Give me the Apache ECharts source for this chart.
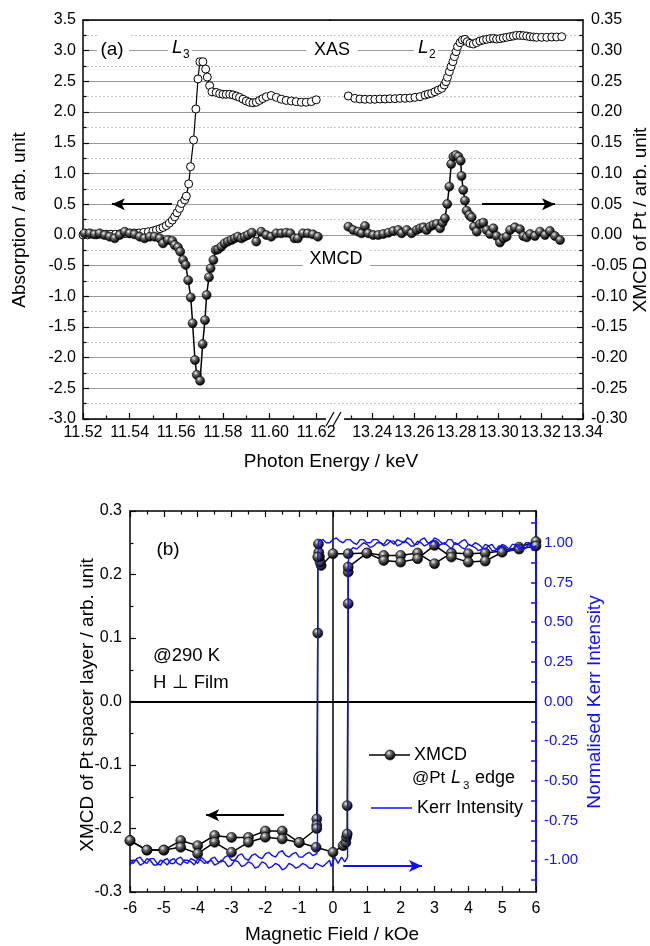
<!DOCTYPE html>
<html><head><meta charset="utf-8">
<script src="https://cdn.jsdelivr.net/npm/echarts@6/dist/echarts.min.js"></script>
<style>html,body{margin:0;padding:0;background:#fff}#c{width:650px;height:946px}</style>
</head><body><div id="c"></div>
<script>
// ---------- DATA (panel a) ----------
// XAS near Pt L3 edge: [photon energy keV, absorption]
const xasL3 = [[11.520,0.00],[11.522,0.00],[11.524,0.01],[11.526,0.00],[11.528,0.01],[11.530,0.01],[11.532,0.01],[11.534,0.01],[11.536,0.02],[11.538,0.02],[11.540,0.02],[11.542,0.03],[11.544,0.03],[11.546,0.04],[11.548,0.05],[11.550,0.065],[11.5515,0.08],[11.553,0.10],[11.5543,0.12],[11.5557,0.15],[11.5570,0.19],[11.5583,0.24],[11.5593,0.295],[11.5603,0.36],[11.5614,0.43],[11.5622,0.51],[11.5636,0.57],[11.5643,0.63],[11.5653,0.83],[11.5661,1.11],[11.5674,1.545],[11.5684,2.05],[11.5693,2.54],[11.5701,2.82],[11.5714,2.82],[11.5726,2.70],[11.5733,2.57],[11.5743,2.43],[11.5753,2.33],[11.5771,2.32],[11.5786,2.30],[11.5800,2.29],[11.5814,2.29],[11.5829,2.29],[11.5843,2.28],[11.5857,2.26],[11.5871,2.24],[11.5886,2.21],[11.5900,2.18],[11.5914,2.16],[11.5929,2.15],[11.5943,2.16],[11.5957,2.19],[11.5971,2.22],[11.5986,2.25],[11.6007,2.27],[11.6029,2.24],[11.6050,2.21],[11.6071,2.19],[11.6093,2.18],[11.6114,2.17],[11.6136,2.16],[11.6157,2.16],[11.6179,2.17],[11.6200,2.20]];
// XAS near Pt L2 edge
const xasL2 = [[13.2287,2.262],[13.2318,2.224],[13.2342,2.213],[13.2366,2.208],[13.239,2.208],[13.2413,2.208],[13.2437,2.213],[13.2461,2.213],[13.2484,2.218],[13.2508,2.218],[13.2532,2.224],[13.2556,2.224],[13.2579,2.229],[13.2603,2.24],[13.2627,2.251],[13.2651,2.278],[13.2666,2.294],[13.2682,2.305],[13.2698,2.332],[13.2714,2.36],[13.273,2.387],[13.2742,2.441],[13.275,2.495],[13.2757,2.566],[13.2766,2.658],[13.2774,2.74],[13.2783,2.821],[13.279,2.903],[13.2798,2.984],[13.2805,3.066],[13.2817,3.131],[13.2828,3.174],[13.284,3.185],[13.2851,3.147],[13.2864,3.12],[13.288,3.109],[13.2895,3.131],[13.2911,3.158],[13.2927,3.174],[13.2943,3.185],[13.2959,3.196],[13.2975,3.201],[13.299,3.19],[13.3006,3.196],[13.3022,3.207],[13.3038,3.218],[13.3054,3.228],[13.307,3.239],[13.3085,3.25],[13.3101,3.25],[13.3117,3.245],[13.3133,3.239],[13.3149,3.228],[13.3165,3.223],[13.318,3.218],[13.3204,3.218],[13.3228,3.218],[13.3252,3.223],[13.3275,3.223],[13.3299,3.228]];
// XMCD near L3 edge (right axis units)
const xmcdL3 = [[11.5207,0.0024],[11.5229,0.0024],[11.525,0.0008],[11.5271,0.0024],[11.5293,-0.0003],[11.5314,-0.003],[11.5336,-0.0057],[11.5357,-0.0003],[11.5379,0.0051],[11.54,0.0024],[11.5421,0.0008],[11.5443,-0.003],[11.5464,-0.0057],[11.5486,-0.003],[11.5507,-0.003],[11.5529,-0.0057],[11.5543,-0.0139],[11.5564,-0.0084],[11.5583,-0.010],[11.5593,-0.0166],[11.5607,-0.0204],[11.5617,-0.0274],[11.5629,-0.041],[11.564,-0.049],[11.5651,-0.074],[11.5662,-0.102],[11.567,-0.144],[11.568,-0.204],[11.5688,-0.228],[11.5702,-0.2376],[11.5713,-0.178],[11.5723,-0.139],[11.573,-0.098],[11.574,-0.069],[11.5747,-0.0546],[11.5759,-0.041],[11.5769,-0.0247],[11.5779,-0.0236],[11.5793,-0.0193],[11.5807,-0.0139],[11.5821,-0.011],[11.5836,-0.0084],[11.585,-0.0057],[11.5864,-0.003],[11.5879,-0.0057],[11.5893,-0.003],[11.5907,-0.0003],[11.5924,0.0035],[11.5943,-0.011],[11.5964,0.0051],[11.5986,-0.0003],[11.6007,-0.003],[11.6029,0.0024],[11.605,0.0024],[11.6071,0.0035],[11.6089,0.0024],[11.6107,-0.0057],[11.6121,-0.0057],[11.6143,0.0024],[11.6164,0.0024],[11.6186,0.0008],[11.6207,-0.003]];
// XMCD near L2 edge (right axis units)
const xmcdL2 = [[13.2287,0.0133],[13.231,0.0079],[13.2334,0.0052],[13.235,0.0025],[13.2366,0.0144],[13.2382,0.0025],[13.2405,-0.0003],[13.2429,-0.0003],[13.2453,0.0014],[13.2477,0.0035],[13.25,0.0062],[13.2524,0.0079],[13.254,0.0025],[13.2564,0.0079],[13.2587,0.0025],[13.2611,0.0079],[13.2627,0.0106],[13.2643,0.0122],[13.2658,0.0079],[13.2674,0.0133],[13.269,0.016],[13.2706,0.0177],[13.2722,0.0106],[13.2734,0.0198],[13.2745,0.0269],[13.2756,0.0502],[13.2766,0.0785],[13.2775,0.1154],[13.2785,0.1274],[13.2797,0.1301],[13.2809,0.1274],[13.282,0.1208],[13.2824,0.0959],[13.2832,0.073],[13.284,0.0557],[13.2848,0.0394],[13.2861,0.0323],[13.2872,0.0285],[13.2883,0.0133],[13.2896,0.0052],[13.2911,0.0177],[13.2927,0.0198],[13.2943,0.0079],[13.2959,0.0014],[13.2975,0.0106],[13.299,-0.0019],[13.3006,-0.0125],[13.3022,-0.0057],[13.3038,-0.003],[13.3054,0.0079],[13.3077,0.0122],[13.3101,0.009],[13.3117,-0.0019],[13.3133,-0.0041],[13.3149,0.0014],[13.3172,-0.0019],[13.3196,0.0052],[13.322,-0.0003],[13.3243,0.0062],[13.3267,-0.0019],[13.3291,-0.0085]];
// tick labels panel a
const aLeftTicks = [11.52, 11.54, 11.56, 11.58, 11.60, 11.62];
const aRightTicks = [13.24, 13.26, 13.28, 13.30, 13.32, 13.34];

// ---------- DATA (panel b) ----------
// XMCD hysteresis: field sweep + to -, then - to + : [kOe, XMCD]
const xmcdDown = [[6.0,0.252],[5.5,0.243],[5.0,0.237],[4.5,0.2337],[4.0,0.2328],[3.5,0.2337],[3.0,0.217],[2.5,0.2337],[2.0,0.23],[1.5,0.23],[1.0,0.2337],[0.45,0.2328],[0.0,0.2328],[-0.35,0.2143],[-0.38,0.2195],[-0.40,0.228],[-0.42,0.235],[-0.43,0.248],[-0.45,0.2275],[-0.45,0.1077],[-0.48,-0.185],[-0.48,-0.195],[-0.48,-0.2],[-1.0,-0.222],[-1.5,-0.204],[-2.0,-0.204],[-2.5,-0.214],[-3.0,-0.214],[-3.5,-0.211],[-4.0,-0.227],[-4.5,-0.219],[-5.0,-0.234],[-5.5,-0.234],[-6.0,-0.219]];
const xmcdUp = [[-6.0,-0.219],[-5.5,-0.234],[-5.0,-0.234],[-4.5,-0.2296],[-4.0,-0.2396],[-3.5,-0.2217],[-3.0,-0.2375],[-2.5,-0.2217],[-2.0,-0.2138],[-1.5,-0.2165],[-1.0,-0.222],[-0.5,-0.2296],[0.0,-0.2375],[0.3,-0.227],[0.38,-0.222],[0.40,-0.2138],[0.42,-0.2086],[0.42,-0.164],[0.45,0.154],[0.45,0.2038],[0.45,0.2117],[1.0,0.2337],[1.5,0.222],[2.0,0.2195],[2.5,0.2249],[3.0,0.2459],[3.5,0.2275],[4.0,0.2195],[4.5,0.2211],[5.0,0.235],[5.5,0.24],[6.0,0.245]];
// Kerr intensity (normalised)
const kerrDown = [[6.0,0.97],[5.9,0.95],[5.8,0.99],[5.7,0.97],[5.6,0.95],[5.5,0.98],[5.4,0.98],[5.3,0.95],[5.2,0.96],[5.1,0.98],[5.0,0.99],[4.9,0.96],[4.8,0.96],[4.7,0.99],[4.6,0.98],[4.5,0.96],[4.4,0.97],[4.3,0.99],[4.2,1.0],[4.1,0.98],[4.0,0.99],[3.9,1.02],[3.8,1.01],[3.7,0.99],[3.6,0.99],[3.5,1.02],[3.4,1.02],[3.3,0.99],[3.2,1.0],[3.1,1.02],[3.0,1.03],[2.9,1.0],[2.8,1.0],[2.7,1.03],[2.6,1.02],[2.5,0.99],[2.4,0.99],[2.3,1.02],[2.2,1.03],[2.1,1.0],[2.0,1.01],[1.9,1.02],[1.8,0.99],[1.7,1.01],[1.6,1.02],[1.5,0.99],[1.4,1.0],[1.3,1.02],[1.2,1.02],[1.1,1.0],[1.0,1.0],[0.9,1.02],[0.8,1.02],[0.7,0.99],[0.6,1.0],[0.5,1.02],[0.4,1.02],[0.3,1.0],[0.2,1.01],[0.1,1.03],[0.0,1.02],[-0.1,1.0],[-0.2,1.0],[-0.3,1.02],[-0.35,1.02],[-0.43,1.01],[-0.45,0.9],[-0.46,-0.9],[-0.48,-0.96],[-0.6,-0.97],[-0.7,-0.95],[-0.8,-0.96],[-0.9,-0.98],[-1.0,-0.98],[-1.1,-0.95],[-1.2,-0.96],[-1.3,-0.98],[-1.4,-0.97],[-1.5,-0.94],[-1.6,-0.95],[-1.7,-0.98],[-1.8,-0.97],[-1.9,-0.95],[-2.0,-0.96],[-2.1,-0.99],[-2.2,-0.98],[-2.3,-0.96],[-2.4,-0.97],[-2.5,-1.0],[-2.6,-0.99],[-2.7,-0.96],[-2.8,-0.97],[-2.9,-1.0],[-3.0,-1.0],[-3.1,-0.97],[-3.2,-0.98],[-3.3,-1.01],[-3.4,-1.01],[-3.5,-0.98],[-3.6,-0.99],[-3.7,-1.02],[-3.8,-1.0],[-3.9,-0.98],[-4.0,-1.02],[-4.1,-1.0],[-4.2,-0.99],[-4.3,-1.02],[-4.4,-1.01],[-4.5,-0.98],[-4.6,-0.99],[-4.7,-1.02],[-4.8,-1.02],[-4.9,-0.99],[-5.0,-1.0],[-5.1,-1.03],[-5.2,-1.02],[-5.3,-0.99],[-5.4,-0.99],[-5.5,-1.02],[-5.6,-1.01],[-5.7,-0.98],[-5.8,-0.99],[-5.9,-1.02],[-6.0,-1.01]];
const kerrUp = [[-6.0,-1.03],[-5.9,-1.0],[-5.8,-1.0],[-5.7,-1.03],[-5.6,-1.02],[-5.5,-0.99],[-5.4,-1.0],[-5.3,-1.03],[-5.2,-1.03],[-5.1,-1.0],[-5.0,-1.01],[-4.9,-1.03],[-4.8,-1.0],[-4.7,-0.99],[-4.6,-1.02],[-4.5,-1.03],[-4.4,-1.0],[-4.3,-1.0],[-4.2,-1.01],[-4.1,-1.03],[-4.0,-0.99],[-3.9,-1.0],[-3.8,-1.02],[-3.7,-1.01],[-3.6,-1.0],[-3.5,-1.03],[-3.4,-1.02],[-3.3,-1.0],[-3.2,-1.01],[-3.1,-1.04],[-3.0,-1.03],[-2.9,-1.0],[-2.8,-1.01],[-2.7,-1.04],[-2.6,-1.03],[-2.5,-1.01],[-2.4,-1.02],[-2.3,-1.05],[-2.2,-1.04],[-2.1,-1.01],[-2.0,-1.02],[-1.9,-1.05],[-1.8,-1.04],[-1.7,-1.02],[-1.6,-1.03],[-1.5,-1.06],[-1.4,-1.05],[-1.3,-1.02],[-1.2,-1.03],[-1.1,-1.05],[-1.0,-1.04],[-0.9,-1.02],[-0.8,-1.03],[-0.7,-1.05],[-0.6,-1.05],[-0.5,-1.02],[-0.4,-1.03],[-0.3,-1.04],[-0.2,-1.02],[-0.1,-1.0],[-0.05,-1.04],[0.0,-1.03],[0.05,-0.98],[0.1,-0.99],[0.15,-1.02],[0.2,-1.01],[0.25,-0.98],[0.3,-0.99],[0.35,-1.01],[0.4,-1.0],[0.43,-0.98],[0.44,0.0],[0.45,0.88],[0.5,0.95],[0.6,0.97],[0.7,0.96],[0.8,0.98],[0.9,1.0],[1.0,0.99],[1.1,0.97],[1.2,0.98],[1.3,1.0],[1.4,1.0],[1.5,0.98],[1.6,0.99],[1.7,1.01],[1.8,1.01],[1.9,0.98],[2.0,0.99],[2.1,1.01],[2.2,1.0],[2.3,0.98],[2.4,0.98],[2.5,1.01],[2.6,1.0],[2.7,0.98],[2.8,0.99],[2.9,1.01],[3.0,1.01],[3.1,0.98],[3.2,0.99],[3.3,1.0],[3.4,0.98],[3.5,0.96],[3.6,1.0],[3.7,0.99],[3.8,0.97],[3.9,0.96],[4.0,0.99],[4.1,0.98],[4.2,0.97],[4.3,0.95],[4.4,0.96],[4.5,0.99],[4.6,0.98],[4.7,0.95],[4.8,0.95],[4.9,0.98],[5.0,0.98],[5.1,0.95],[5.2,0.96],[5.3,0.99],[5.4,0.99],[5.5,0.96],[5.6,0.97],[5.7,1.0],[5.8,1.0],[5.9,0.97],[6.0,0.98]];
const kerrTickValues = [-1.125,-1,-0.875,-0.75,-0.625,-0.5,-0.375,-0.25,-0.125,0,0.125,0.25,0.375,0.5,0.625,0.75,0.875,1,1.125];
const kerrLabelValues = [-1,-0.75,-0.5,-0.25,0,0.25,0.5,0.75,1];

// ---------- CHART ----------
const FONT = '"Liberation Sans", Arial, sans-serif';
const BLUE = '#1010ff';
const chart = echarts.init(document.getElementById('c'), null, {renderer: 'canvas'});
const sphere = {type: 'radial', x: 0.38, y: 0.32, r: 0.7, colorStops: [
  {offset: 0, color: '#f0f0f0'}, {offset: 0.35, color: '#666'}, {offset: 0.8, color: '#111'}, {offset: 1, color: '#000'}]};

function lbl(size, color) { return {fontFamily: FONT, fontSize: size, color: color || '#000'}; }
const blackLine = {show: true, onZero: false, lineStyle: {color: '#000', width: 1.5}};
const gridSplit = {show: true, lineStyle: {color: '#9a9a9a', width: 1.2}};
const gridMinor = {show: true, lineStyle: {color: '#c4c4c4', width: 1, type: [2, 2]}};
const tick = {inside: true, length: 6, lineStyle: {color: '#000', width: 1.2}};
const mtick = {show: true, splitNumber: 2, length: 3.5, lineStyle: {color: '#000', width: 1.2}};

function txt(text, x, y, size, opts) {
  opts = opts || {};
  return {type: 'text', x: x, y: y, rotation: opts.rot || 0, z: 10,
    style: {text: text, x: 0, y: 0, fill: opts.color || '#000',
      font: (opts.italic ? 'italic ' : '') + size + 'px ' + FONT,
      textAlign: opts.align || 'left', textVerticalAlign: 'middle'}};
}
function wrect(x, y, w, h) {
  return {type: 'rect', shape: {x: x, y: y, width: w, height: h}, style: {fill: '#fff'}, z: 9};
}

const option = {
  backgroundColor: '#fff',
  animation: false,
  grid: [
    {left: 83, top: 20, width: 247, height: 399},
    {left: 330, top: 20, width: 253, height: 399},
    {left: 130, top: 511, width: 406, height: 381}
  ],
  xAxis: [
    {gridIndex: 0, type: 'value', min: 11.52, max: 11.6259, interval: 0.02, position: 'bottom',
     axisLine: blackLine, splitLine: {show: false}, axisTick: tick, minorTick: mtick,
     axisLabel: Object.assign(lbl(16), {margin: 6, formatter: v => aLeftTicks.some(t => Math.abs(t - v) < 1e-6) ? v.toFixed(2) : ''})},
    {gridIndex: 0, type: 'value', min: 11.52, max: 11.6259, position: 'top',
     axisLine: blackLine, axisTick: {show: false}, axisLabel: {show: false}, splitLine: {show: false}},
    {gridIndex: 1, type: 'value', min: 13.22, max: 13.34, interval: 0.02, position: 'bottom',
     axisLine: blackLine, splitLine: {show: false}, axisTick: tick, minorTick: mtick,
     axisLabel: Object.assign(lbl(16), {margin: 6, formatter: v => aRightTicks.some(t => Math.abs(t - v) < 1e-6) ? v.toFixed(2) : ''})},
    {gridIndex: 1, type: 'value', min: 13.22, max: 13.34, position: 'top',
     axisLine: blackLine, axisTick: {show: false}, axisLabel: {show: false}, splitLine: {show: false}},
    {gridIndex: 2, type: 'value', min: -6, max: 6, interval: 1, position: 'bottom',
     axisLine: blackLine, splitLine: {show: false}, axisTick: tick, minorTick: mtick,
     axisLabel: Object.assign(lbl(16), {margin: 9, formatter: v => String(Math.round(v))})},
    {gridIndex: 2, type: 'value', min: -6, max: 6, interval: 1, position: 'top',
     axisLine: blackLine, splitLine: {show: false}, axisTick: tick, minorTick: mtick,
     axisLabel: {show: false}}
  ],
  yAxis: [
    {gridIndex: 0, type: 'value', min: -3, max: 3.5, interval: 0.5, position: 'left',
     axisLine: blackLine, splitLine: gridSplit, minorSplitLine: gridMinor, axisTick: tick, minorTick: mtick,
     axisLabel: Object.assign(lbl(16), {margin: 7, formatter: v => v.toFixed(1)})},
    {gridIndex: 0, type: 'value', min: -0.3, max: 0.35, show: false, splitLine: {show: false}},
    {gridIndex: 1, type: 'value', min: -0.3, max: 0.35, interval: 0.05, position: 'right',
     axisLine: blackLine, splitLine: gridSplit, minorSplitLine: gridMinor, axisTick: tick, minorTick: mtick,
     axisLabel: Object.assign(lbl(16), {margin: 8, formatter: v => v.toFixed(2)})},
    {gridIndex: 1, type: 'value', min: -3, max: 3.5, show: false, splitLine: {show: false}},
    {gridIndex: 2, type: 'value', min: -0.3, max: 0.3, interval: 0.1, position: 'left',
     axisLine: blackLine, splitLine: {show: false}, axisTick: tick, minorTick: mtick,
     axisLabel: Object.assign(lbl(16), {margin: 8, formatter: v => v.toFixed(1)})},
    {gridIndex: 2, type: 'value', min: -1.2, max: 1.2, position: 'right',
     axisLine: {show: true, onZero: false, lineStyle: {color: BLUE, width: 2}}, splitLine: {show: false},
     axisTick: {inside: true, length: 5, customValues: kerrTickValues, lineStyle: {color: BLUE, width: 1.5}},
     axisLabel: Object.assign(lbl(15, BLUE), {margin: 8, customValues: kerrLabelValues, formatter: v => v.toFixed(2)})}
  ],
  series: [
    {type: 'line', name: 'XAS L3', xAxisIndex: 0, yAxisIndex: 0, data: xasL3, z: 3,
     symbol: 'circle', symbolSize: 8, lineStyle: {color: '#000', width: 1.2},
     itemStyle: {color: '#fff', borderColor: '#000', borderWidth: 1},
     markLine: {silent: true, symbol: ['none', 'arrow'], symbolSize: [9, 13], label: {show: false},
       lineStyle: {color: '#000', width: 2, type: 'solid'},
       data: [[{coord: [11.5581, 0.5]}, {coord: [11.5324, 0.5]}]]}},
    {type: 'line', name: 'XMCD L3', xAxisIndex: 0, yAxisIndex: 1, data: xmcdL3, z: 4,
     symbol: 'circle', symbolSize: 9, lineStyle: {color: '#000', width: 1.5},
     itemStyle: {color: sphere, borderColor: '#000', borderWidth: 0.6}},
    {type: 'line', name: 'XAS L2', xAxisIndex: 2, yAxisIndex: 3, data: xasL2, z: 3,
     symbol: 'circle', symbolSize: 8, lineStyle: {color: '#000', width: 1.2},
     itemStyle: {color: '#fff', borderColor: '#000', borderWidth: 1}},
    {type: 'line', name: 'XMCD L2', xAxisIndex: 2, yAxisIndex: 2, data: xmcdL2, z: 4,
     symbol: 'circle', symbolSize: 9, lineStyle: {color: '#000', width: 1.5},
     itemStyle: {color: sphere, borderColor: '#000', borderWidth: 0.6},
     markLine: {silent: true, symbol: ['none', 'arrow'], symbolSize: [9, 13], label: {show: false},
       lineStyle: {color: '#000', width: 2, type: 'solid'},
       data: [[{coord: [13.2921, 0.05]}, {coord: [13.3267, 0.05]}]]}},
    {type: 'line', name: 'XMCD down', xAxisIndex: 4, yAxisIndex: 4, data: xmcdDown, z: 4,
     symbol: 'circle', symbolSize: 10, lineStyle: {color: '#000', width: 1.5},
     itemStyle: {color: sphere, borderColor: '#000', borderWidth: 0.6},
     markLine: {silent: true, symbol: ['none', 'arrow'], symbolSize: [9, 13], label: {show: false},
       lineStyle: {color: '#000', width: 2, type: 'solid'},
       data: [[{coord: [-1.45, -0.179]}, {coord: [-3.75, -0.179]}]]}},
    {type: 'line', name: 'XMCD up', xAxisIndex: 4, yAxisIndex: 4, data: xmcdUp, z: 4,
     symbol: 'circle', symbolSize: 10, lineStyle: {color: '#000', width: 1.5},
     itemStyle: {color: sphere, borderColor: '#000', borderWidth: 0.6},
     markLine: {silent: true, symbol: 'none', label: {show: false}, z: 1,
       lineStyle: {color: '#000', width: 2, type: 'solid'},
       data: [{yAxis: 0}, {xAxis: 0, lineStyle: {color: '#000', width: 1.5, type: 'solid'}}]}},
    {type: 'line', name: 'Kerr down', xAxisIndex: 4, yAxisIndex: 5, data: kerrDown, z: 5,
     symbol: 'none', lineStyle: {color: BLUE, width: 1.4}},
    {type: 'line', name: 'Kerr up', xAxisIndex: 4, yAxisIndex: 5, data: kerrUp, z: 5,
     symbol: 'none', lineStyle: {color: BLUE, width: 1.4},
     markLine: {silent: true, symbol: ['none', 'arrow'], symbolSize: [9, 13], label: {show: false},
       lineStyle: {color: BLUE, width: 2, type: 'solid'},
       data: [[{coord: [0.3, -1.037]}, {coord: [2.63, -1.037]}]]}}
  ],
  graphic: {elements: [
    // panel a labels
    wrect(97, 34, 32, 30), txt('(a)', 112, 50, 19, {align: 'center'}),
    wrect(168, 36, 24, 24), txt('L', 172, 48, 19, {italic: true}), txt('3', 183, 55, 12),
    wrect(306, 36, 52, 26), txt('XAS', 332, 50, 18, {align: 'center'}),
    wrect(414, 36, 24, 24), txt('L', 418, 48, 19, {italic: true}), txt('2', 429, 55, 12),
    wrect(303, 248, 67, 22), txt('XMCD', 336, 259, 18, {align: 'center'}),
    // axis break
    wrect(326, 410, 18, 14),
    {type: 'line', shape: {x1: 326, y1: 426, x2: 334, y2: 412}, style: {stroke: '#000', lineWidth: 1.2}, z: 11},
    {type: 'line', shape: {x1: 333, y1: 426, x2: 341, y2: 412}, style: {stroke: '#000', lineWidth: 1.2}, z: 11},
    // axis titles
    txt('Photon Energy / keV', 331, 462, 19, {align: 'center'}),
    txt('Absorption / arb. unit', 20, 220, 19, {align: 'center', rot: Math.PI / 2}),
    txt('XMCD of Pt / arb. unit', 641, 220, 19, {align: 'center', rot: Math.PI / 2}),
    txt('Magnetic Field / kOe', 332, 935, 19, {align: 'center'}),
    txt('XMCD of Pt spacer layer / arb. unit', 88, 705, 19, {align: 'center', rot: Math.PI / 2}),
    txt('Normalised Kerr Intensity', 595, 702, 19, {align: 'center', rot: Math.PI / 2, color: BLUE}),
    // panel b labels
    txt('(b)', 168, 550, 19, {align: 'center'}),
    txt('@290 K', 153, 656, 18.5),
    txt('H \u22a5 Film', 153, 683, 18.5),
    // legend
    {type: 'line', shape: {x1: 369, y1: 755, x2: 410, y2: 755}, style: {stroke: '#000', lineWidth: 1.5}, z: 10},
    {type: 'circle', shape: {cx: 390, cy: 755, r: 5}, style: {fill: sphere, stroke: '#000', lineWidth: 0.6}, z: 11},
    txt('XMCD', 414, 755, 18),
    txt('@Pt', 412, 778, 17), txt('L', 451, 778, 18, {italic: true}), txt('3', 463, 786, 11.5), txt('edge', 475, 778, 18),
    {type: 'line', shape: {x1: 371, y1: 808, x2: 412, y2: 808}, style: {stroke: BLUE, lineWidth: 1.5}, z: 10},
    txt('Kerr Intensity', 417, 808, 18)
  ]}
};
chart.setOption(option);
</script>
</body></html>
